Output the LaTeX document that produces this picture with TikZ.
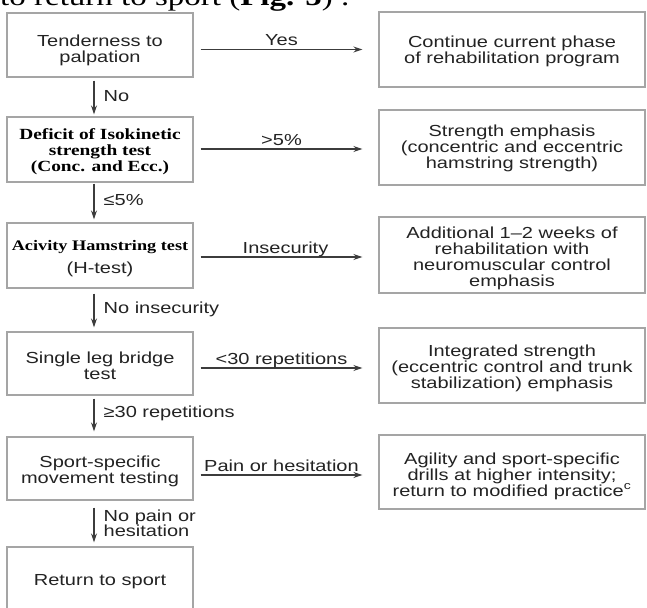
\documentclass[tikz,border=0pt]{standalone}
\usepackage{fontspec}
\usetikzlibrary{arrows.meta}
\newfontfamily\sfx{Liberation Sans}[FakeStretch=1.25]
\newfontfamily\serx{Liberation Serif}[FakeStretch=1.25]
\definecolor{boxgray}{RGB}{165,165,165}
\definecolor{arrgray}{RGB}{60,60,60}
\definecolor{txtgray}{RGB}{35,35,35}
\tikzset{
  box/.style={draw=boxgray, line width=1.3pt, minimum width=186pt, minimum height=64pt, inner sep=0pt},
  rbox/.style={box, minimum width=266pt, minimum height=75pt},
  btext/.style={inner sep=0pt, align=center, text=txtgray, font=\sfx\fontsize{16}{16}\selectfont},
  arr/.style={-{Stealth[length=9pt,width=6pt]}, line width=1.3pt, draw=arrgray},
  hlab/.style={anchor=base, yshift=4pt, inner sep=0pt, text=txtgray, font=\sfx\fontsize{16}{16}\selectfont},
  vlab/.style={anchor=west, xshift=9pt, yshift=1.5pt, inner sep=0pt, align=left, text=txtgray, font=\sfx\fontsize{16}{15}\selectfont}
}
\newcommand{\serbold}[1]{{\serx\bfseries\fontsize{15.5}{18.5}\selectfont\color{black}#1}}
\begin{document}
\begin{tikzpicture}[x=1pt,y=-1pt]
\useasboundingbox (0,0) rectangle (647,607);
\clip (0,0) rectangle (647,607);
\fill[white] (0,0) rectangle (647,607);
% header (cut off at the top edge)
\node[anchor=base west, inner sep=0pt, font=\serx\fontsize{26.4}{26.4}\selectfont] (hdr) at (0,5.5) {to return to sport (\textbf{Fig. 5}) .};
% left column boxes
\node[box] (b1) at (100,45) {};
\node[box, minimum height=65pt] (b2) at (100,149.5) {};
\node[box, minimum height=65pt] (b3) at (100,255.5) {};
\node[box, minimum height=63pt] (b4) at (100,363.5) {};
\node[box, minimum height=63pt] (b5) at (100,468.5) {};
\node[box] (b6) at (100,579) {};
% right column boxes
\node[rbox] (r1) at (512,49.5) {};
\node[rbox] (r2) at (512,147.5) {};
\node[rbox, minimum height=76pt] (r3) at (512,255) {};
\node[rbox] (r4) at (512,365.5) {};
\node[rbox, minimum height=74pt] (r5) at (512,472) {};
% box texts
\node[btext] (t1) at ([yshift=-5.5pt]b1.center) {Tenderness to\\palpation};
\node[btext] (t2) at ([yshift=-2pt]b2.center) {\serbold{Deficit of Isokinetic}\\\serbold{strength test}\\\serbold{(Conc. and Ecc.)}};
\node[btext] (t3) at ([yshift=-3pt]b3.center) {{\serx\bfseries\fontsize{14.6}{18}\selectfont\color{black}Acivity Hamstring test}\\[7pt](H-test)};
\node[btext] (t4) at ([yshift=-2.5pt]b4.center) {Single leg bridge\\test};
\node[btext] (t5) at ([yshift=-3pt]b5.center) {Sport-specific\\movement testing};
\node[btext] (t6) at ([yshift=-3pt]b6.center) {Return to sport};
\node[btext] (u1) at ([yshift=-2pt]r1.center) {Continue current phase\\of rehabilitation program};
\node[btext] (u2) at ([yshift=-0.5pt]r2.center) {Strength emphasis\\(concentric and eccentric\\hamstring strength)};
\node[btext] (u3) at ([yshift=-3pt]r3.center) {Additional 1–2 weeks of\\rehabilitation with\\neuromuscular control\\emphasis};
\node[btext] (u4) at ([yshift=-3pt]r4.center) {Integrated strength\\(eccentric control and trunk\\stabilization) emphasis};
\node[btext] (u5) at ([yshift=-4pt]r5.center) {Agility and sport-specific\\drills at higher intensity;\\return to modified practice\textsuperscript{c}};
% vertical arrows
\draw[arr] ([xshift=-6pt,yshift=-3pt]b1.south) -- ([xshift=-6pt,yshift=2pt]b2.north) node[vlab, midway] {No};
\draw[arr] ([xshift=-6pt,yshift=-1pt]b2.south) -- ([xshift=-6pt,yshift=3pt]b3.north) node[vlab, midway] {≤5\%};
\draw[arr] ([xshift=-6pt,yshift=-5pt]b3.south) -- ([xshift=-6pt,yshift=4pt]b4.north) node[vlab, midway] {No insecurity};
\draw[arr] ([xshift=-6pt,yshift=-3pt]b4.south) -- ([xshift=-6pt,yshift=5pt]b5.north) node[vlab, midway] {≥30 repetitions};
\draw[arr] ([xshift=-6pt,yshift=-7pt]b5.south) -- ([xshift=-6pt,yshift=4pt]b6.north) node[vlab, midway] {No pain or\\hesitation};
% horizontal arrows
\draw[arr] ([xshift=7pt]b1.east |- r1.west) -- ([xshift=-16pt]r1.west) node[hlab, midway] {Yes};
\draw[arr] ([xshift=7pt,yshift=-1.5pt]b2.east |- r2.west) -- ([xshift=-16pt,yshift=-1.5pt]r2.west) node[hlab, midway] {>5\%};
\draw[arr] ([xshift=7pt,yshift=-2pt]b3.east |- r3.west) -- ([xshift=-16pt,yshift=-2pt]r3.west) node[hlab, midway, xshift=4pt] {Insecurity};
\draw[arr] ([xshift=7pt,yshift=-2.5pt]b4.east |- r4.west) -- ([xshift=-16pt,yshift=-2.5pt]r4.west) node[hlab, midway] {<30 repetitions};
\draw[arr] ([xshift=7pt,yshift=-3pt]b5.east |- r5.west) -- ([xshift=-16pt,yshift=-3pt]r5.west) node[hlab, midway] {Pain or hesitation};
\end{tikzpicture}
\end{document}
